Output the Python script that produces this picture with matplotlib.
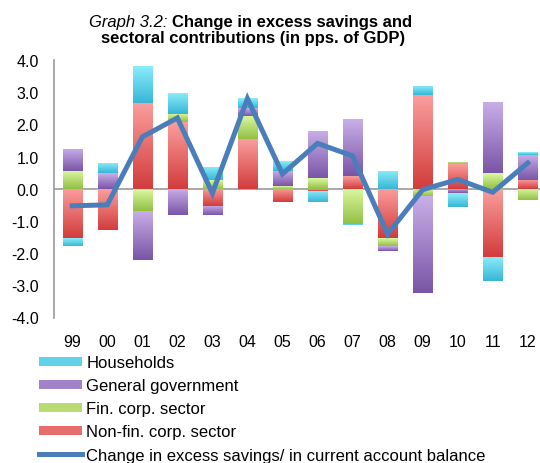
import numpy as np
import matplotlib
matplotlib.use("Agg")
import matplotlib.pyplot as plt
from matplotlib.colors import LinearSegmentedColormap, to_rgb
from matplotlib.patches import Patch
from matplotlib.lines import Line2D

plt.rcParams['font.family'] = ['Liberation Sans', 'DejaVu Sans']

# %% DATA
years = ['99', '00', '01', '02', '03', '04', '05', '06', '07', '08', '09', '10', '11', '12']
nonfin = [-1.54, -1.27, 2.66, 2.06, -0.53, 1.54, -0.42, -0.06, 0.40, -1.53, 2.91, 0.77, -2.11, 0.28]
fin = [0.56, 0.00, -0.68, 0.26, 0.27, 0.73, 0.09, 0.32, -1.10, -0.24, -0.22, 0.07, 0.48, -0.35]
gov = [0.69, 0.48, -1.53, -0.81, -0.29, 0.24, 0.47, 1.48, 1.77, -0.15, -3.02, -0.14, 2.23, 0.78]
hh = [-0.23, 0.32, 1.16, 0.67, 0.41, 0.30, 0.29, -0.35, -0.03, 0.56, 0.29, -0.42, -0.77, 0.09]
balance = [-0.53, -0.50, 1.61, 2.20, -0.14, 2.80, 0.46, 1.41, 1.02, -1.41, -0.03, 0.29, -0.11, 0.80]

series = [
    ('Non-fin. corp. sector', nonfin, '#d23c3c', '#fa9e9c'),
    ('Fin. corp. sector', fin, '#92c045', '#ddf8a0'),
    ('General government', gov, '#7a55a6', '#c9afe9'),
    ('Households', hh, '#38b6d6', '#8ceefb'),
]

# %% PLOT
fig = plt.figure(figsize=(5.4, 4.64), dpi=100)
ax = fig.add_axes([54 / 540, 1 - 318.5 / 464, 486 / 540, (318.5 - 61) / 464])

x = np.arange(len(years))
pos_bottom = np.zeros(len(years))
neg_bottom = np.zeros(len(years))
grad = np.linspace(0, 1, 64).reshape(-1, 1)
width = 0.55

# stacked bars, each segment filled with a vertical gradient (light top, dark bottom)
for name, vals, dark, light in series:
    vals = np.array(vals)
    bottoms = np.where(vals >= 0, pos_bottom, neg_bottom)
    bars = ax.bar(x, vals, width, bottom=bottoms, facecolor='none', edgecolor='none', zorder=2)
    cmap = LinearSegmentedColormap.from_list(name, [dark, light])
    for b in bars:
        x0, y0 = b.get_x(), b.get_y()
        w, h = b.get_width(), b.get_height()
        if h == 0:
            continue
        lo, hi = min(y0, y0 + h), max(y0, y0 + h)
        im = ax.imshow(grad, cmap=cmap, origin='lower', aspect='auto',
                       extent=(x0, x0 + w, lo, hi), zorder=2)
        im.set_clip_path(b)
    pos_bottom = pos_bottom + np.where(vals > 0, vals, 0)
    neg_bottom = neg_bottom + np.where(vals < 0, vals, 0)

ax.axhline(0, color='#999999', linewidth=1.2, zorder=1)
ax.plot(x, balance, color='#4a7ebb', linewidth=3.6, solid_joinstyle='miter', zorder=3)

ax.set_xlim(-0.52, 13.35)
ax.set_ylim(-4, 4)
ax.set_yticks(np.arange(-4, 4.1, 1))
ax.set_yticklabels([f'{v:.1f}' for v in np.arange(-4, 4.1, 1)])
ax.set_xticks(x)
ax.set_xticklabels(years)
ax.tick_params(axis='both', length=0, labelsize=11.5, colors='#000000')
ax.tick_params(axis='y', pad=11)
ax.tick_params(axis='x', pad=12)
for side in ['top', 'right', 'bottom']:
    ax.spines[side].set_visible(False)
ax.spines['left'].set_color('#999999')
ax.spines['left'].set_linewidth(1.2)

# title: italic prefix followed by bold text
t1 = fig.text(89 / 540, 1 - 22 / 464, 'Graph 3.2: ', style='italic', fontsize=12, va='center', ha='left')
fig.canvas.draw()
ax.annotate('Change in excess savings and', xy=(1, 0.5), xycoords=t1, va='center', ha='left',
            fontsize=12, fontweight='bold', annotation_clip=False)
fig.text(253 / 540, 1 - 38 / 464, 'sectoral contributions (in pps. of GDP)', fontsize=12,
         fontweight='bold', va='center', ha='center')


def mid(c1, c2):
    a, b = np.array(to_rgb(c1)), np.array(to_rgb(c2))
    return tuple((a + b) / 2)


handles = [Patch(facecolor=mid(s[2], s[3]), edgecolor='none') for s in series[::-1]]
handles.append(Line2D([0], [0], color='#4a7ebb', linewidth=3.6))
labels = [s[0] for s in series[::-1]] + ['Change in excess savings/ in current account balance']
fig.legend(handles, labels, loc='upper left', bbox_to_anchor=(39 / 540, 1 - 356 / 464),
           frameon=False, fontsize=12, handlelength=2.58, handleheight=0.45,
           handletextpad=0.25, labelspacing=0.49, borderpad=0, borderaxespad=0)

plt.savefig('out.png', dpi=100)
